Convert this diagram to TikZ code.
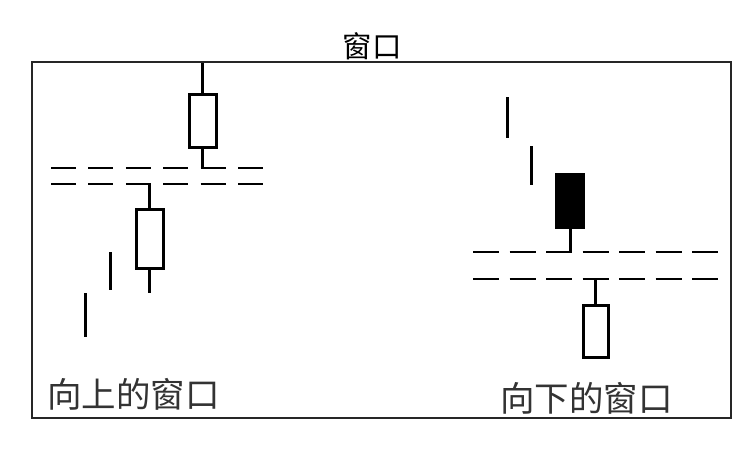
\documentclass[tikz,border=0pt]{standalone}
\usepackage{fontspec}
\newfontfamily\cjk{Noto Sans CJK SC}
\begin{document}
\begin{tikzpicture}[x=1pt,y=-1pt,
  frame/.style={draw=black!85,line width=2pt},
  wick/.style={line width=3pt},
  body/.style={draw,line width=3pt,fill=white},
  dbody/.style={draw,line width=3pt,fill=black},
  dline/.style={line width=2.5pt,dash pattern=on 25pt off 12.4pt},
  dliner/.style={line width=2.5pt,dash pattern=on 26pt off 10.5pt},
  lbl/.style={font=\cjk\fontsize{34.5}{37}\selectfont,text=black!80,inner sep=0pt}]
\useasboundingbox (0,0) rectangle (756,450);
\draw[frame] (32,62) rectangle (731,418);
\node[font=\cjk\fontsize{29.5}{31}\selectfont,inner sep=0pt] (title) at (372,46) {窗口};
\node[lbl,anchor=west] (lup) at (47,394) {向上的窗口};
\node[lbl,anchor=west] (ldn) at (500,398) {向下的窗口};
% left (upward window)
\coordinate (d1a) at (51,168); \coordinate (d1b) at (263,168);
\coordinate (d2a) at (51,184); \coordinate (d2b) at (263,184);
\draw[dline] (d1a) -- (d1b);
\draw[dline] (d2a) -- (d2b);
\draw[wick] (85,293) -- (85,337);
\draw[wick] (110,252) -- (110,290);
\draw[wick] (149,184) -- (149,293);
\draw[body] (136,209) rectangle (163,268);
\draw[wick] (202,63) -- (202,168);
\draw[body] (189,94) rectangle (216,147);
% right (downward window)
\coordinate (d3a) at (473,252); \coordinate (d3b) at (718,252);
\coordinate (d4a) at (473,279); \coordinate (d4b) at (718,279);
\draw[dliner] (d3a) -- (d3b);
\draw[dliner] (d4a) -- (d4b);
\draw[wick] (507,97) -- (507,138);
\draw[wick] (531,146) -- (531,185);
\draw[wick] (570,200) -- (570,252);
\draw[dbody] (556,174) rectangle (583,227);
\draw[wick] (595,279) -- (595,320);
\draw[body] (583,305) rectangle (608,357);
\end{tikzpicture}
\end{document}
